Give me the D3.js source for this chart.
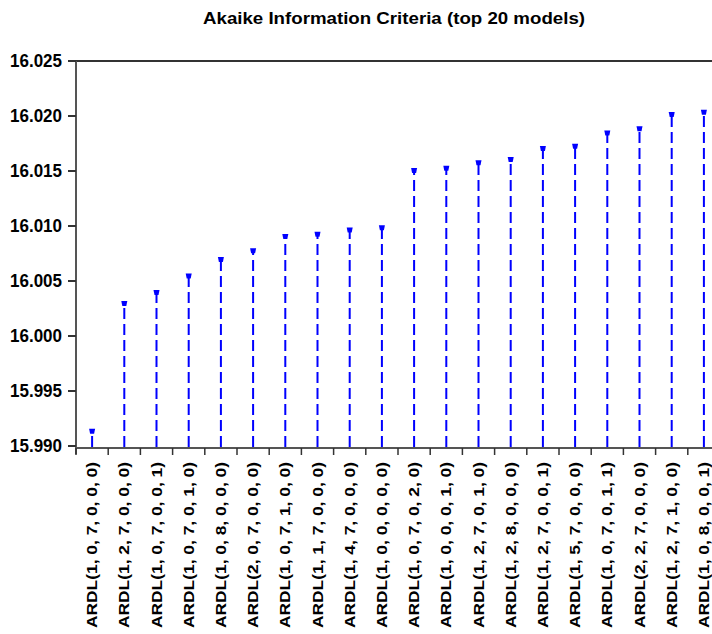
<!DOCTYPE html>
<html>
<head>
<meta charset="utf-8">
<script src="https://cdn.jsdelivr.net/npm/d3@7"></script>
<style>
  body { margin: 0; background: #fff; }
  svg { display: block; }
  text { font-family: "Liberation Sans", Arial, sans-serif; fill: #000; }
</style>
</head>
<body>
<div id="chart"></div>
<script>
// model labels, in plotted order
const models = [
    "ARDL(1, 0, 7, 0, 0, 0)", "ARDL(1, 2, 7, 0, 0, 0)", "ARDL(1, 0, 7, 0, 0, 1)",
    "ARDL(1, 0, 7, 0, 1, 0)", "ARDL(1, 0, 8, 0, 0, 0)", "ARDL(2, 0, 7, 0, 0, 0)",
    "ARDL(1, 0, 7, 1, 0, 0)", "ARDL(1, 1, 7, 0, 0, 0)", "ARDL(1, 4, 7, 0, 0, 0)",
    "ARDL(1, 0, 0, 0, 0, 0)", "ARDL(1, 0, 7, 0, 2, 0)", "ARDL(1, 0, 0, 0, 1, 0)",
    "ARDL(1, 2, 7, 0, 1, 0)", "ARDL(1, 2, 8, 0, 0, 0)", "ARDL(1, 2, 7, 0, 0, 1)",
    "ARDL(1, 5, 7, 0, 0, 0)", "ARDL(1, 0, 7, 0, 1, 1)", "ARDL(2, 2, 7, 0, 0, 0)",
    "ARDL(1, 2, 7, 1, 0, 0)", "ARDL(1, 0, 8, 0, 0, 1)"
]
// AIC values
const aic = [
    15.9913, 16.0029, 16.0039, 16.0054, 16.0069, 16.0077, 16.0090, 16.0092, 16.0096, 16.0098,
    16.0150, 16.0152, 16.0157, 16.0160, 16.0170, 16.0172, 16.0184, 16.0188, 16.0201, 16.0203
]
const yTicks = [15.990, 15.995, 16.000, 16.005, 16.010, 16.015, 16.020, 16.025]
const title = "Akaike Information Criteria (top 20 models)"

var width = 712, height = 634
var mLeft = 76, mTop = 61, mBottom = 446, axisY = 448

const svg = d3.select("#chart").append("svg")
    .attr("width", width)
    .attr("height", height)

var x = d3.scaleBand().domain(models).range([mLeft, mLeft + 20 * 32.2])
var y = d3.scaleLinear().domain([15.990, 16.025]).range([mBottom, mTop])

svg.append("text")
    .attr("x", 394)
    .attr("y", 24)
    .attr("text-anchor", "middle")
    .attr("textLength", 382)
    .attr("lengthAdjust", "spacingAndGlyphs")
    .style("font-size", "17px")
    .style("font-weight", "bold")
    .text(title)

// frame lines
svg.append("line")
    .attr("x1", mLeft).attr("x2", width).attr("y1", mTop).attr("y2", mTop)
    .attr("stroke", "#333").attr("stroke-width", 2)
svg.append("line")
    .attr("x1", mLeft).attr("x2", mLeft).attr("y1", mTop).attr("y2", axisY + 6)
    .attr("stroke", "#555").attr("stroke-width", 2)
svg.append("line")
    .attr("x1", mLeft).attr("x2", width).attr("y1", axisY).attr("y2", axisY)
    .attr("stroke", "#555").attr("stroke-width", 2)

// y axis ticks + labels
const yAxis = svg.append("g")
yAxis.selectAll("line").data(yTicks).enter().append("line")
    .attr("x1", mLeft - 8).attr("x2", mLeft)
    .attr("y1", d => y(d)).attr("y2", d => y(d))
    .attr("stroke", "#333").attr("stroke-width", 2)
yAxis.selectAll("text").data(yTicks).enter().append("text")
    .attr("x", 62)
    .attr("y", d => y(d) + 6)
    .attr("text-anchor", "end")
    .attr("textLength", 52)
    .attr("lengthAdjust", "spacingAndGlyphs")
    .style("font-size", "18px")
    .style("font-weight", "bold")
    .text(d => d.toFixed(3))

// x ticks at band edges
svg.append("g").selectAll("line").data(models).enter().append("line")
    .attr("x1", d => x(d)).attr("x2", d => x(d))
    .attr("y1", axisY).attr("y2", axisY + 7)
    .attr("stroke", "#333").attr("stroke-width", 1.5)

// rotated model labels
svg.append("g").selectAll("text").data(models).enter().append("text")
    .attr("transform", d => "translate(" + (x(d) + x.bandwidth() / 2 + 5) + ",462) rotate(-90)")
    .attr("text-anchor", "end")
    .attr("textLength", 166)
    .attr("lengthAdjust", "spacingAndGlyphs")
    .style("font-size", "15px")
    .style("font-weight", "bold")
    .text(d => d)

// dashed stems, drawn upward from the axis
const pts = models.map((m, i) => ({ m: m, v: aic[i] }))
svg.append("g").selectAll("line").data(pts).enter().append("line")
    .attr("x1", d => x(d.m) + x.bandwidth() / 2)
    .attr("x2", d => x(d.m) + x.bandwidth() / 2)
    .attr("y1", axisY - 1)
    .attr("y2", d => y(d.v))
    .attr("stroke", "#0000ff")
    .attr("stroke-width", 2)
    .attr("stroke-dasharray", "11,5")

// markers
svg.append("g").selectAll("path").data(pts).enter().append("path")
    .attr("transform", d => "translate(" + (x(d.m) + x.bandwidth() / 2) + "," + y(d.v) + ")")
    .attr("d", "M-3,-3L3,-3L2,2L-2,2Z")
    .attr("fill", "#0000ff")
</script>
</body>
</html>
